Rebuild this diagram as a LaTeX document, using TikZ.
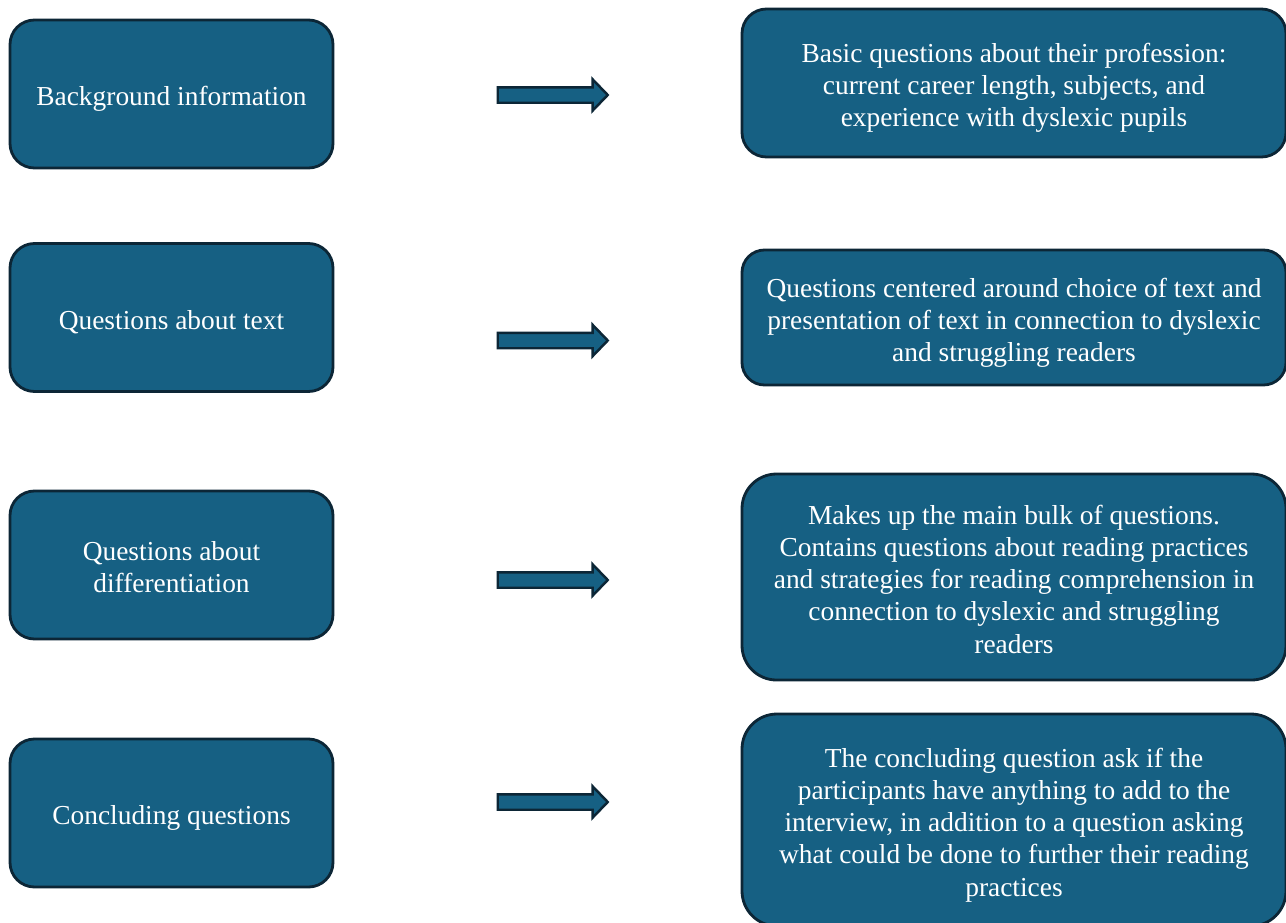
\documentclass[tikz,border=0pt]{standalone}
\usepackage{fontspec}
\setmainfont{Liberation Serif}
\usetikzlibrary{shapes.arrows}
\definecolor{boxblue}{HTML}{166083}
\definecolor{boxline}{HTML}{0C2636}
% centred lines, set a little low in the box
\newcommand{\boxtext}[1]{\raisebox{-3pt}[\height][\depth]{\begin{tabular}{@{}c@{}}#1\end{tabular}}}
\tikzset{
  topic/.style={draw=boxline, fill=boxblue, line width=1.6pt, text=white,
    font=\fontsize{15.6}{18.3}\selectfont, inner sep=0pt,
    minimum width=6.46cm, minimum height=2.96cm, rounded corners=0.49cm},
  detail/.style={topic, minimum width=10.88cm},
  blockarrow/.style={single arrow, draw=boxline, fill=boxblue, line width=1.4pt,
    inner xsep=0pt, inner ysep=0.13cm, minimum height=2.2cm,
    single arrow head extend=0.16cm, single arrow tip angle=92}
}
\begin{document}
\begin{tikzpicture}
% Page size and clipping
\useasboundingbox (0,0) rectangle (25.72,-18.44);
\clip (0,0) rectangle (25.72,-18.44);

% Left column: interview parts
\node[topic] (bg) at (3.43, -1.88) {\boxtext{Background information}};
\node[topic] (txt) at (3.43, -6.35) {\boxtext{Questions about text}};
\node[topic] (diff) at (3.43, -11.30) {\boxtext{Questions about\\differentiation}};
\node[topic] (concl) at (3.43, -16.26) {\boxtext{Concluding questions}};

% Right column: what each part covers
\node[detail, minimum height=2.96cm, rounded corners=0.49cm] (bgInfo) at (20.28, -1.66)
  {\boxtext{Basic questions about their profession:\\current career length, subjects, and\\experience with dyslexic pupils}};
\node[detail, minimum height=2.70cm, rounded corners=0.45cm] (txtInfo) at (20.28, -6.35)
  {\boxtext{Questions centered around choice of text and\\presentation of text in connection to dyslexic\\and struggling readers}};
\node[detail, minimum height=4.12cm, rounded corners=0.69cm] (diffInfo) at (20.28, -11.54)
  {\boxtext{Makes up the main bulk of questions.\\Contains questions about reading practices\\and strategies for reading comprehension in\\connection to dyslexic and struggling\\readers}};
\node[detail, minimum height=4.24cm, rounded corners=0.70cm] (conclInfo) at (20.28, -16.40)
  {\boxtext{The concluding question ask if the\\participants have anything to add to the\\interview, in addition to a question asking\\what could be done to further their reading\\practices}};

% Block arrows in between
\node[blockarrow] (arrBg) at (10.98, -1.90) {};
\node[blockarrow] (arrTxt) at (10.98, -6.81) {};
\node[blockarrow] (arrDiff) at (10.98, -11.60) {};
\node[blockarrow] (arrConcl) at (10.98, -16.04) {};
\end{tikzpicture}
\end{document}
